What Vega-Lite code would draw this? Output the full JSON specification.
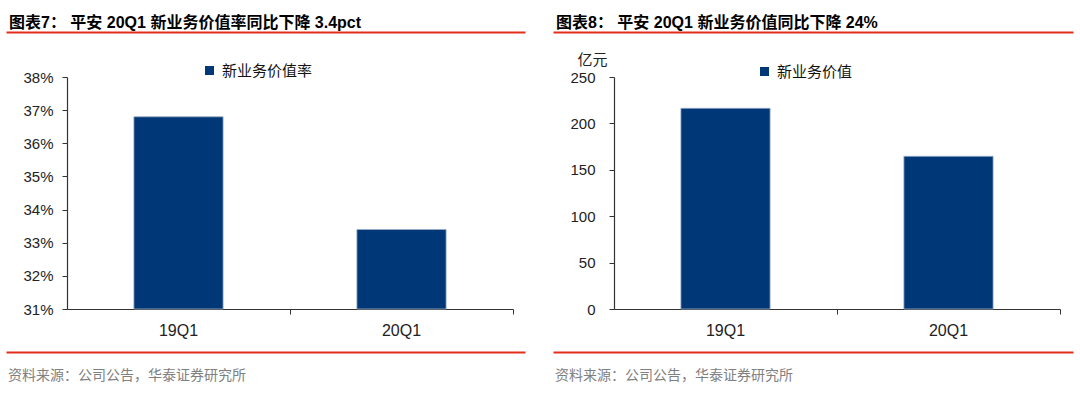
{
  "$schema": "https://vega.github.io/schema/vega-lite/v6.json",
  "background": "white",
  "padding": {"left": 3, "top": 15, "right": 5, "bottom": 5},
  "bounds": "flush",
  "columns": 2,
  "spacing": {"row": 43, "column": 101},
  "resolve": {"scale": {"color": "independent", "x": "independent", "y": "independent"}, "legend": {"color": "independent"}},
  "config": {
    "view": {"stroke": null},
    "font": "Liberation Sans, Noto Sans CJK SC",
    "axis": {"grid": false, "domainColor": "#333333", "tickColor": "#333333", "labelColor": "#222222", "labelFont": "Liberation Sans", "labelFontSize": 15}
  },
  "concat": [
    {
      "width": 446, "height": 2,
      "title": {"text": "图表7：  平安 20Q1 新业务价值率同比下降 3.4pct", "anchor": "start", "frame": "group", "dx": -58, "offset": -17, "baseline": "bottom", "fontSize": 16, "fontWeight": "bold", "color": "#000000", "font": "Liberation Sans, Noto Sans CJK SC"},
      "data": {"values": [{"v": 0}]},
      "mark": {"type": "point", "opacity": 0},
      "encoding": {"x": {"field": "v", "type": "quantitative", "scale": {"domain": [0, 1], "range": [-61, 458]}, "axis": {"orient": "top", "domainColor": "#e52d1c", "domainWidth": 2, "ticks": false, "labels": false, "title": null}}}
    },
    {
      "width": 446, "height": 2,
      "title": {"text": "图表8：  平安 20Q1 新业务价值同比下降 24%", "anchor": "start", "frame": "group", "dx": -58, "offset": -17, "baseline": "bottom", "fontSize": 16, "fontWeight": "bold", "color": "#000000", "font": "Liberation Sans, Noto Sans CJK SC"},
      "data": {"values": [{"v": 0}]},
      "mark": {"type": "point", "opacity": 0},
      "encoding": {"x": {"field": "v", "type": "quantitative", "scale": {"domain": [0, 1], "range": [-61, 459]}, "axis": {"orient": "top", "domainColor": "#e52d1c", "domainWidth": 2, "ticks": false, "labels": false, "title": null}}}
    },
    {
      "width": 446, "height": 232,
      "data": {"values": [
        {"period": "19Q1", "value": 0.368, "series": "新业务价值率"},
        {"period": "20Q1", "value": 0.334, "series": "新业务价值率"}
      ]},
      "mark": {"type": "bar", "stroke": "#9fb0c8", "strokeWidth": 0.8},
      "encoding": {
        "x": {"field": "period", "type": "nominal", "sort": null, "scale": {"paddingInner": 0.6, "paddingOuter": 0.3},
              "axis": {"title": null, "labelAngle": 0, "bandPosition": 1.75, "tickSize": 5, "labelPadding": 8, "labelFontSize": 16, "domainWidth": 1.2}},
        "y": {"field": "value", "type": "quantitative", "scale": {"domain": [0.31, 0.38], "nice": false, "zero": false},
              "axis": {"title": null, "format": ".0%", "values": [0.31, 0.32, 0.33, 0.34, 0.35, 0.36, 0.37, 0.38], "tickSize": 5, "labelPadding": 9, "domainWidth": 1.2}},
        "y2": {"datum": 0.31},
        "color": {"field": "series", "type": "nominal", "scale": {"range": ["#003777"]},
                  "legend": {"title": null, "orient": "none", "legendX": 135, "legendY": -14, "symbolType": "square", "symbolSize": 81, "symbolStrokeWidth": 0, "labelFont": "Noto Sans CJK SC", "labelFontSize": 15, "labelColor": "#111111", "labelOffset": 5, "padding": 0}}
      }
    },
    {
      "width": 446, "height": 232,
      "data": {"values": [
        {"period": "19Q1", "value": 216.29, "series": "新业务价值"},
        {"period": "20Q1", "value": 164.57, "series": "新业务价值"}
      ]},
      "mark": {"type": "bar", "stroke": "#9fb0c8", "strokeWidth": 0.8},
      "encoding": {
        "x": {"field": "period", "type": "nominal", "sort": null, "scale": {"paddingInner": 0.6, "paddingOuter": 0.3},
              "axis": {"title": null, "labelAngle": 0, "bandPosition": 1.75, "tickSize": 5, "labelPadding": 8, "labelFontSize": 16, "domainWidth": 1.2}},
        "y": {"field": "value", "type": "quantitative", "scale": {"domain": [0, 250], "nice": false},
              "axis": {"title": "亿元", "titleAngle": 0, "titleAlign": "right", "titleBaseline": "middle", "titleX": -7, "titleY": -18, "titleFont": "Noto Sans CJK SC", "titleFontSize": 15, "titleFontWeight": "normal", "titleColor": "#222222",
                       "values": [0, 50, 100, 150, 200, 250], "tickSize": 5, "labelPadding": 14, "domainWidth": 1.2}},
        "color": {"field": "series", "type": "nominal", "scale": {"range": ["#003777"]},
                  "legend": {"title": null, "orient": "none", "legendX": 143, "legendY": -13, "symbolType": "square", "symbolSize": 81, "symbolStrokeWidth": 0, "labelFont": "Noto Sans CJK SC", "labelFontSize": 15, "labelColor": "#111111", "labelOffset": 5, "padding": 0}}
      }
    },
    {
      "width": 446, "height": 2,
      "title": {"text": "资料来源：公司公告，华泰证券研究所", "orient": "bottom", "anchor": "start", "frame": "group", "dx": -59, "offset": 13, "baseline": "top", "fontSize": 14, "fontWeight": "normal", "color": "#808080", "font": "Noto Sans CJK SC"},
      "data": {"values": [{"v": 0}]},
      "mark": {"type": "point", "opacity": 0},
      "encoding": {"x": {"field": "v", "type": "quantitative", "scale": {"domain": [0, 1], "range": [-61, 458]}, "axis": {"orient": "top", "domainColor": "#e52d1c", "domainWidth": 2, "ticks": false, "labels": false, "title": null}}}
    },
    {
      "width": 446, "height": 2,
      "title": {"text": "资料来源：公司公告，华泰证券研究所", "orient": "bottom", "anchor": "start", "frame": "group", "dx": -59, "offset": 13, "baseline": "top", "fontSize": 14, "fontWeight": "normal", "color": "#808080", "font": "Noto Sans CJK SC"},
      "data": {"values": [{"v": 0}]},
      "mark": {"type": "point", "opacity": 0},
      "encoding": {"x": {"field": "v", "type": "quantitative", "scale": {"domain": [0, 1], "range": [-61, 459]}, "axis": {"orient": "top", "domainColor": "#e52d1c", "domainWidth": 2, "ticks": false, "labels": false, "title": null}}}
    }
  ]
}
